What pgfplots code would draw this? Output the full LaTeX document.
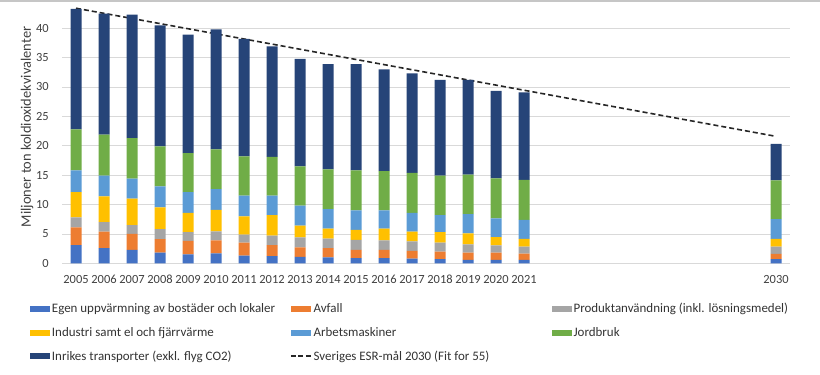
\documentclass[border=0pt]{standalone}
\usepackage{pgfplots}
\pgfplotsset{compat=1.18}
\usepackage{pgfplotstable}
\usepackage{fontspec}
\setmainfont{Carlito}
\definecolor{cBlue}{HTML}{4472C4}
\definecolor{cOrange}{HTML}{ED7D31}
\definecolor{cGray}{HTML}{A5A5A5}
\definecolor{cYellow}{HTML}{FFC000}
\definecolor{cLB}{HTML}{5B9BD5}
\definecolor{cGreen}{HTML}{70AD47}
\definecolor{cNavy}{HTML}{264478}
\definecolor{cGrid}{HTML}{D9D9D9}
\pgfplotstableread{
year blue orange gray yellow lb green navy
2005 3.1 3.0 1.7 4.3 3.7 7.0 20.5
2006 2.6 2.8 1.6 4.4 3.5 7.0 20.6
2007 2.3 2.7 1.5 4.5 3.4 6.9 21.0
2008 1.8 2.3 1.7 3.7 3.6 6.8 20.6
2009 1.5 2.3 1.5 3.3 3.5 6.65 20.15
2010 1.7 2.2 1.55 3.65 3.5 6.8 20.4
2011 1.3 2.2 1.4 3.1 3.5 6.7 20.0
2012 1.2 1.9 1.6 3.5 3.3 6.6 18.8
2013 1.1 1.6 1.7 2.0 3.4 6.7 18.3
2014 1.0 1.6 1.6 1.7 3.3 6.8 17.9
2015 0.9 1.4 1.7 1.7 3.3 6.8 18.1
2016 0.9 1.4 1.6 2.0 3.1 6.7 17.3
2017 0.8 1.3 1.65 1.65 3.2 6.8 16.9
2018 0.7 1.3 1.5 1.8 2.9 6.7 16.3
2019 0.6 1.2 1.4 1.9 3.25 6.75 16.1
2020 0.6 1.2 1.25 1.4 3.2 6.8 14.9
2021 0.6 1.05 1.2 1.3 3.25 6.8 14.9
2030 0.7 0.9 1.25 1.3 3.35 6.6 6.2
}\emissions
\pgfplotstableread{
year target
2005 43.4
2030 21.6
}\target
\begin{document}
\begin{tikzpicture}
\useasboundingbox (0,0) rectangle (820bp,375bp);
\fill[gray!45] (0,372.5bp) rectangle (820bp,375bp);
\begin{axis}[
  at={(62bp,111.7bp)}, anchor=south west,
  scale only axis, width=728bp, height=263.3bp,
  ybar stacked, bar width=11bp,
  xmin=2004.5, xmax=2030.5, ymin=0, ymax=44.8,
  xtick={2005,2006,2007,2008,2009,2010,2011,2012,2013,2014,2015,2016,2017,2018,2019,2020,2021,2030},
  ytick={0,5,...,40},
  /pgf/number format/1000 sep={},
  /pgf/number format/assume math mode=true,
  ymajorgrids, grid style={cGrid, line width=0.8bp},
  axis line style={draw=none},
  major tick length=0pt,
  tick label style={font=\fontsize{12.5}{14}\selectfont, text=black!75},
  xticklabel style={inner sep=0pt, anchor=base, yshift=-20bp},
  yticklabel style={inner sep=0pt, xshift=-13bp},
  ylabel={Miljoner ton koldioxidekvivalenter},
  ylabel style={at={(axis description cs:-0.048,0.518)}, anchor=center,
    font=\fontsize{14.5}{16}\selectfont, text=black!75, inner sep=0pt},
  legend columns=3,
  legend cell align=left,
  legend style={draw=none, fill=none, inner sep=0pt, outer sep=0pt,
    at={(axis description cs:-0.044,-0.152)}, anchor=north west,
    font=\fontsize{13}{15}\selectfont, text=black!80,
    row sep=13bp,
    nodes={inner sep=0pt, outer sep=0pt},
    /tikz/every odd column/.append style={column sep=2bp}},
  legend image code/.code={\fill[#1] (0bp,-3bp) rectangle (20bp,3bp);},
]
\addplot[fill=cBlue, draw=none] table[x=year, y=blue] {\emissions};
\addlegendentry{\makebox[238bp][l]{Egen uppvärmning av bostäder och lokaler}}
\addplot[fill=cOrange, draw=none] table[x=year, y=orange] {\emissions};
\addlegendentry{\makebox[238bp][l]{Avfall}}
\addplot[fill=cGray, draw=none] table[x=year, y=gray] {\emissions};
\addlegendentry{Produktanvändning (inkl. lösningsmedel)}
\addplot[fill=cYellow, draw=none] table[x=year, y=yellow] {\emissions};
\addlegendentry{Industri samt el och fjärrvärme}
\addplot[fill=cLB, draw=none] table[x=year, y=lb] {\emissions};
\addlegendentry{Arbetsmaskiner}
\addplot[fill=cGreen, draw=none] table[x=year, y=green] {\emissions};
\addlegendentry{Jordbruk}
\addplot[fill=cNavy, draw=none] table[x=year, y=navy] {\emissions};
\addlegendentry{Inrikes transporter (exkl. flyg CO2)}
\addplot[stack plots=false, sharp plot, black!85, line width=1.6bp, dash pattern=on 5bp off 3bp,
  legend image code/.code={\draw[black!85, line width=1.6bp, dash pattern=on 5bp off 2.5bp] (0bp,0bp) -- (20bp,0bp);}]
  table[x=year, y=target] {\target};
\addlegendentry{Sveriges ESR-mål 2030 (Fit for 55)}
\end{axis}
\end{tikzpicture}
\end{document}
